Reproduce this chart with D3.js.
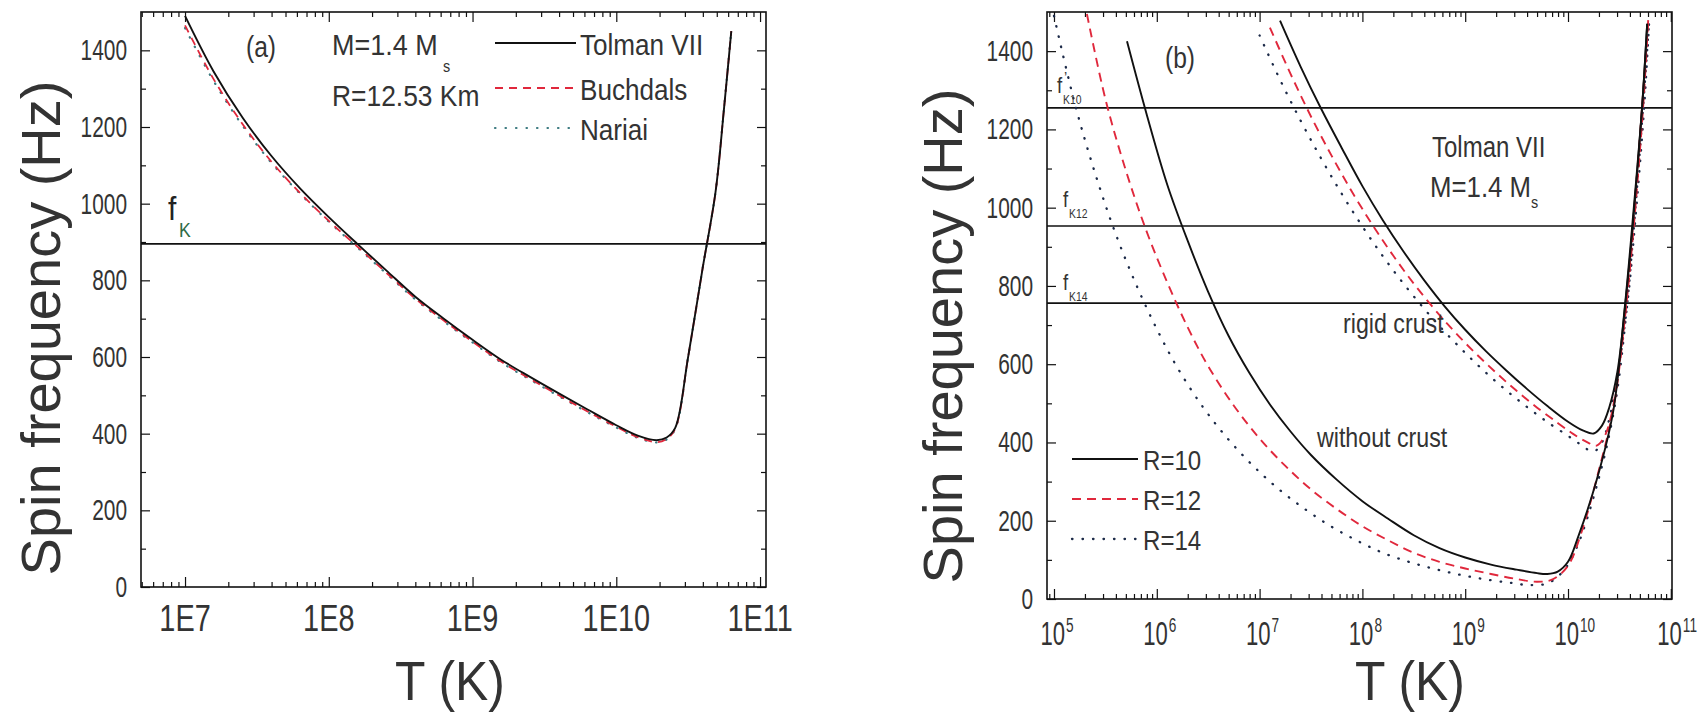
<!DOCTYPE html>
<html>
<head>
<meta charset="utf-8">
<script src="https://cdn.jsdelivr.net/npm/d3@7"></script>
<style>
  body { margin: 0; background: #fff; }
  text { font-family: "Liberation Sans", Arial, sans-serif; }
</style>
</head>
<body>
<svg id="chart" width="1698" height="716"></svg>
<script>
// ---- panel (a): M=1.4 Ms, R=12.53 km
var tempA = [1.0e7, 1.58e7, 2.51e7, 3.98e7, 6.31e7, 1.0e8, 1.58e8, 2.51e8, 3.98e8, 6.31e8, 1.0e9, 1.58e9,
  2.51e9, 3.98e9, 6.31e9, 1.0e10, 1.41e10, 1.91e10, 2.24e10, 2.57e10, 3.16e10, 3.98e10, 4.9e10, 5.62e10, 6.31e10];
var tolmanA = [1490, 1345, 1225, 1125, 1040, 965, 895, 826, 758, 700, 645, 593,
  548, 505, 463, 422, 395, 383, 390, 415, 600, 830, 1030, 1250, 1450];
var buchdalsA = [1465, 1325, 1208, 1110, 1028, 955, 888, 820, 753, 695, 640, 588,
  543, 500, 458, 418, 391, 378, 386, 413, 600, 830, 1030, 1250, 1450];
var nariaiA = [1458, 1320, 1204, 1107, 1026, 953, 886, 818, 751, 693, 638, 586,
  541, 498, 456, 416, 389, 377, 385, 412, 600, 830, 1030, 1250, 1450];
var fKa = 895;
var xMajorA = [1e7, 1e8, 1e9, 1e10, 1e11];
var xLabelsA = ["1E7", "1E8", "1E9", "1E10", "1E11"];
var legendA = ["Tolman VII", "Buchdals", "Nariai"];

// ---- panel (b): Tolman VII, M=1.4 Ms, [T (K), f (Hz)]
var noCrustR10 = [[5.13e5,1425],[7.94e5,1240],[1.26e6,1060],[2.0e6,915],[3.16e6,785],[5.0e6,672],[7.94e6,578],
  [1.26e7,497],[2.0e7,428],[3.16e7,368],[5.62e7,305],[1.0e8,250],[1.78e8,205],[3.16e8,163],[5.62e8,130],
  [1.0e9,106],[1.78e9,88],[3.16e9,75],[5.0e9,66],[6.3e9,64],[7.94e9,70],[1.0e10,95],[1.26e10,160],
  [1.9e10,304],[2.75e10,479],[3.55e10,740],[4.17e10,940],[5.25e10,1255],[5.89e10,1470]];
var noCrustR12 = [[2.09e5,1495],[3.16e5,1278],[5.0e5,1095],[7.94e5,940],[1.26e6,810],[2.0e6,694],[3.16e6,595],
  [5.62e6,494],[1.0e7,410],[1.78e7,340],[3.16e7,280],[5.62e7,230],[1.0e8,186],[1.78e8,150],[3.16e8,118],
  [5.62e8,95],[1.0e9,78],[1.78e9,64],[3.16e9,51],[5.0e9,44],[7.08e9,50],[1.0e10,85],[1.35e10,170],
  [2.0e10,330],[2.82e10,500],[3.63e10,740],[4.27e10,950],[5.25e10,1255],[6.03e10,1480]];
var noCrustR14 = [[1.0e5,1490],[1.58e5,1270],[2.51e5,1088],[3.98e5,933],[6.31e5,803],[1.0e6,690],[1.58e6,592],
  [2.82e6,490],[5.0e6,407],[8.9e6,337],[1.58e7,278],[2.82e7,228],[5.0e7,185],[8.9e7,149],[1.58e8,118],
  [2.82e8,95],[5.0e8,77],[8.9e8,62],[1.58e9,50],[2.82e9,41],[3.98e9,36],[6.31e9,40],[8.9e9,70],
  [1.2e10,128],[2.0e10,310],[2.88e10,500],[3.72e10,740],[4.37e10,950],[5.37e10,1255],[6.17e10,1480]];
var rigidR10 = [[1.58e7,1478],[2.51e7,1360],[3.98e7,1252],[6.31e7,1152],[1.0e8,1055],[1.58e8,968],[2.51e8,888],
  [3.98e8,815],[6.31e8,748],[1.0e9,688],[1.58e9,634],[2.51e9,584],[3.98e9,537],[6.31e9,493],[1.0e10,453],
  [1.41e10,430],[1.78e10,423],[2.14e10,443],[2.51e10,488],[3.02e10,580],[3.63e10,760],[4.27e10,955],
  [5.25e10,1255],[5.89e10,1470]];
var rigidR12 = [[1.26e7,1460],[2.0e7,1342],[3.16e7,1233],[5.01e7,1133],[7.94e7,1040],[1.26e8,955],[2.0e8,877],
  [3.16e8,806],[5.01e8,741],[7.94e8,682],[1.26e9,628],[2.0e9,578],[3.16e9,532],[5.01e9,489],[7.94e9,450],
  [1.12e10,422],[1.58e10,399],[1.9e10,392],[2.24e10,413],[2.63e10,468],[3.09e10,580],[3.72e10,760],
  [4.37e10,955],[5.37e10,1255],[6.03e10,1480]];
var rigidR14 = [[1.0e7,1440],[1.58e7,1327],[2.51e7,1222],[3.98e7,1125],[6.31e7,1035],[1.0e8,952],[1.58e8,876],
  [2.51e8,806],[3.98e8,742],[6.31e8,683],[1.0e9,629],[1.58e9,579],[2.51e9,533],[3.98e9,491],[6.31e9,452],
  [1.0e10,417],[1.32e10,395],[1.58e10,381],[1.82e10,378],[2.14e10,400],[2.51e10,458],[3.02e10,570],
  [3.8e10,760],[4.47e10,955],[5.5e10,1255],[6.17e10,1480]];
var fKb = [1255, 953, 756];
var fKbLabels = ["K10", "K12", "K14"];
var xMajorB = [1e5, 1e6, 1e7, 1e8, 1e9, 1e10, 1e11];
var xExpB = ["5", "6", "7", "8", "9", "10", "11"];
var legendB = ["R=10", "R=12", "R=14"];

var yMajor = [0, 200, 400, 600, 800, 1000, 1200, 1400];
var yMinor = [100, 300, 500, 700, 900, 1100, 1300];

var RED = "#e0283c", DOTA = "#3c7a80", DOTB = "#1c2a48", TXT = "#333";

var svg = d3.select("#chart");
var defs = svg.append("defs");

function txt(g, x, y, str, size, sx, anchor, color) {
  return g.append("text")
    .attr("transform", "translate(" + x + "," + y + ") scale(" + sx + ",1)")
    .attr("font-size", size)
    .attr("text-anchor", anchor || "start")
    .attr("fill", color || TXT)
    .text(str);
}

function minorTicks(dom) {
  var out = [];
  for (var e = Math.floor(Math.log10(dom[0])); e <= Math.ceil(Math.log10(dom[1])); e++) {
    for (var m = 2; m <= 9; m++) {
      var v = m * Math.pow(10, e);
      if (v >= dom[0] && v <= dom[1]) out.push(v);
    }
  }
  return out;
}

function panel(id, box, xDomain, xMajor) {
  var x = d3.scaleLog().domain(xDomain).range([box.left, box.right]);
  var y = d3.scaleLinear().domain([0, 1500]).range([box.bottom, box.top]);
  var g = svg.append("g").attr("id", id);

  defs.append("clipPath").attr("id", "clip-" + id).append("rect")
    .attr("x", box.left).attr("y", box.top)
    .attr("width", box.right - box.left).attr("height", box.bottom - box.top);

  var xMinor = minorTicks(xDomain);
  var ticks = g.append("g").attr("stroke-width", 1.2);
  function put(axis, tx, ty) {
    ticks.append("g").attr("transform", "translate(" + tx + "," + ty + ")")
      .call(axis.tickFormat("").tickSizeOuter(0))
      .call(function (s) { s.select(".domain").remove(); s.selectAll("line").attr("stroke", "#111"); });
  }
  put(d3.axisBottom(x).tickValues(xMajor).tickSizeInner(-10), 0, box.bottom);
  put(d3.axisBottom(x).tickValues(xMinor).tickSizeInner(-5), 0, box.bottom);
  put(d3.axisTop(x).tickValues(xMajor).tickSizeInner(-10), 0, box.top);
  put(d3.axisTop(x).tickValues(xMinor).tickSizeInner(-5), 0, box.top);
  put(d3.axisLeft(y).tickValues(yMajor).tickSizeInner(-9), box.left, 0);
  put(d3.axisLeft(y).tickValues(yMinor).tickSizeInner(-5), box.left, 0);
  put(d3.axisRight(y).tickValues(yMajor).tickSizeInner(-9), box.right, 0);
  put(d3.axisRight(y).tickValues(yMinor).tickSizeInner(-5), box.right, 0);

  yMajor.forEach(function (v) {
    txt(g, box.left - 14, y(v) + 10, String(v), 29, 0.72, "end");
  });

  var plot = g.append("g").attr("clip-path", "url(#clip-" + id + ")");
  var line = d3.line().x(function (d) { return x(d[0]); }).y(function (d) { return y(d[1]); })
    .curve(d3.curveCatmullRom.alpha(0.5));

  return { g: g, plot: plot, x: x, y: y, line: line, box: box };
}

function curve(p, data, color, dash, width) {
  p.plot.append("path").datum(data)
    .attr("d", p.line)
    .attr("fill", "none")
    .attr("stroke", color)
    .attr("stroke-width", width || 1.8)
    .attr("stroke-linecap", dash === "dot" ? "round" : "butt")
    .attr("stroke-dasharray", dash === "dot" ? "0.5,10" : dash);
}

function hline(p, v) {
  p.plot.append("line")
    .attr("x1", p.box.left).attr("x2", p.box.right)
    .attr("y1", p.y(v)).attr("y2", p.y(v))
    .attr("stroke", "#111").attr("stroke-width", 1.6);
}

function frame(p) {
  var b = p.box;
  p.g.append("rect").attr("x", b.left).attr("y", b.top)
    .attr("width", b.right - b.left).attr("height", b.bottom - b.top)
    .attr("fill", "none").attr("stroke", "#111").attr("stroke-width", 1.6);
}

function yTitle(p, xb, yc) {
  p.g.append("text")
    .attr("transform", "translate(" + xb + "," + yc + ") rotate(-90)")
    .attr("font-size", 56).attr("text-anchor", "middle").attr("fill", TXT)
    .text("Spin frequency (Hz)");
}

function zip(ts, fs) { return ts.map(function (t, i) { return [t, fs[i]]; }); }

// ================= panel (a) =================
var A = panel("pa", { left: 141, right: 766, top: 12, bottom: 587 }, [4.94e6, 1.1e11], xMajorA);
hline(A, fKa);
curve(A, zip(tempA, nariaiA), DOTA, "dot", 2.2);
curve(A, zip(tempA, buchdalsA), RED, "8,6", 1.8);
curve(A, zip(tempA, tolmanA), "#111", null, 1.9);
frame(A);

xMajorA.forEach(function (v, i) {
  txt(A.g, A.x(v), 631, xLabelsA[i], 37, 0.78, "middle");
});
txt(A.g, 450, 700, "T (K)", 56, 0.89, "middle");
yTitle(A, 60, 328);

txt(A.g, 246, 57, "(a)", 30, 0.82);
txt(A.g, 332, 55, "M=1.4 M", 30, 0.9);
txt(A.g, 443, 72, "s", 16, 0.9);
txt(A.g, 332, 106, "R=12.53 Km", 30, 0.88);
txt(A.g, 168, 220, "f", 34, 0.88, "start", "#222");
txt(A.g, 179, 237, "K", 20, 0.88, "start", "#2e6b45");

var legA = [{ c: "#111", d: null }, { c: RED, d: "8,6" }, { c: DOTA, d: "dot" }];
var legAy = [55, 100, 140];
legA.forEach(function (s, i) {
  var yy = legAy[i] - 12;
  A.g.append("line").attr("x1", 495).attr("x2", 576).attr("y1", yy).attr("y2", yy)
    .attr("stroke", s.c).attr("stroke-width", s.d === "dot" ? 2.2 : 1.8)
    .attr("stroke-linecap", s.d === "dot" ? "round" : "butt")
    .attr("stroke-dasharray", s.d === "dot" ? "0.5,10" : s.d);
  txt(A.g, 580, legAy[i], legendA[i], 30, 0.87);
});

// ================= panel (b) =================
var B = panel("pb", { left: 1047, right: 1672, top: 12, bottom: 599 }, [8.55e4, 1.027e11], xMajorB);
fKb.forEach(function (v) { hline(B, v); });
curve(B, noCrustR14, DOTB, "dot", 2.3);
curve(B, rigidR14, DOTB, "dot", 2.3);
curve(B, noCrustR12, RED, "9,6", 1.9);
curve(B, rigidR12, RED, "9,6", 1.9);
curve(B, noCrustR10, "#111", null, 1.9);
curve(B, rigidR10, "#111", null, 1.9);
frame(B);

xMajorB.forEach(function (v, i) {
  var xt = B.x(v);
  txt(B.g, xt + 11, 645, "10", 34, 0.65, "end");
  txt(B.g, xt + 12, 632, xExpB[i], 21, 0.65, "start");
});
txt(B.g, 1410, 700, "T (K)", 56, 0.89, "middle");
yTitle(B, 962, 336);

txt(B.g, 1165, 68, "(b)", 30, 0.82);
var fLabY = [93, 207, 290];
var fLabX = [1057, 1063, 1063];
fKb.forEach(function (v, i) {
  txt(B.g, fLabX[i], fLabY[i], "f", 22, 0.85);
  txt(B.g, fLabX[i] + 6, fLabY[i] + 11, fKbLabels[i], 13, 0.8);
});
txt(B.g, 1064, 84, "\u2019", 16, 0.9);
txt(B.g, 1432, 157, "Tolman VII", 30, 0.8);
txt(B.g, 1430, 197, "M=1.4 M", 30, 0.86);
txt(B.g, 1531, 208, "s", 16, 0.9);
txt(B.g, 1343, 333, "rigid crust", 27, 0.86);
txt(B.g, 1317, 447, "without crust", 27, 0.86);

var legB = [{ c: "#111", d: null }, { c: RED, d: "9,6" }, { c: DOTB, d: "dot" }];
var legBy = [470, 510, 550];
legB.forEach(function (s, i) {
  var yy = legBy[i] - 11;
  B.g.append("line").attr("x1", 1072).attr("x2", 1138).attr("y1", yy).attr("y2", yy)
    .attr("stroke", s.c).attr("stroke-width", s.d === "dot" ? 2.3 : 1.9)
    .attr("stroke-linecap", s.d === "dot" ? "round" : "butt")
    .attr("stroke-dasharray", s.d === "dot" ? "0.5,10" : s.d);
  txt(B.g, 1143, legBy[i], legendB[i], 28, 0.86);
});
</script>
</body>
</html>
